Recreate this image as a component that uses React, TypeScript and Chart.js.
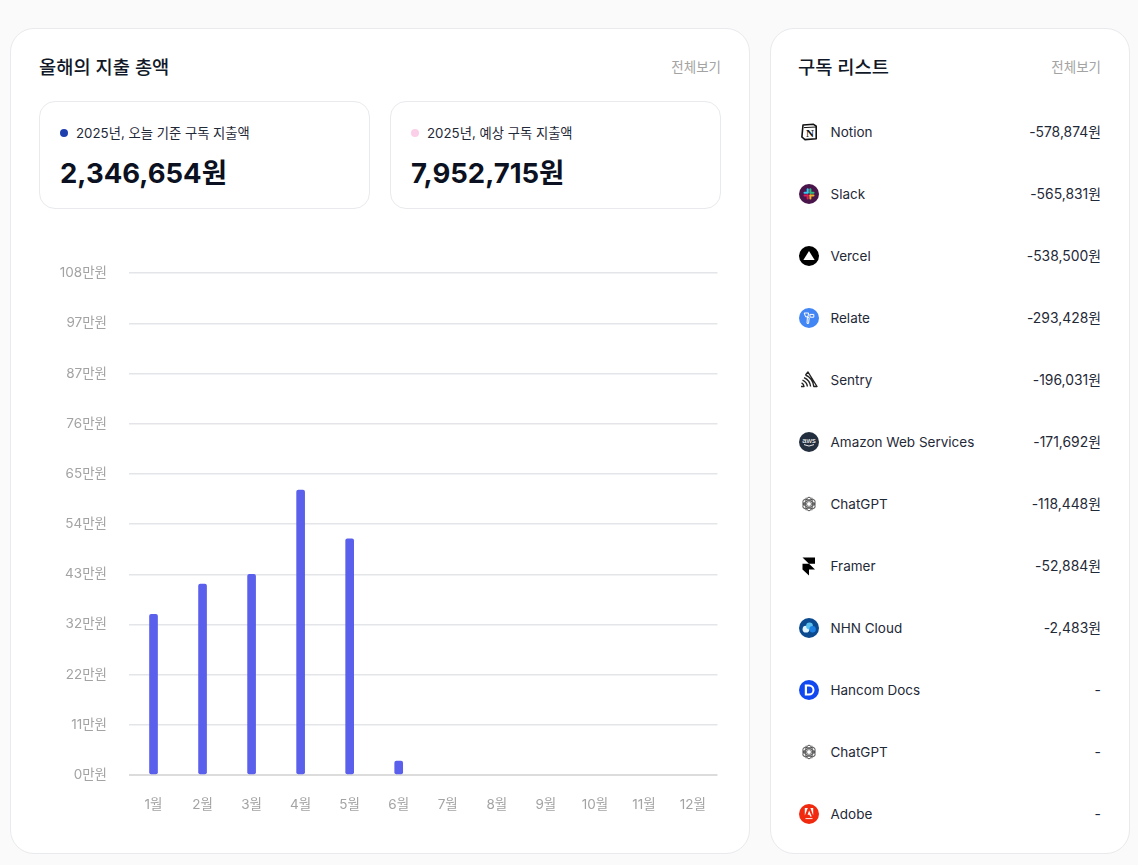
import React, { useEffect, useRef } from "react";
import { Chart, registerables } from "chart.js";

Chart.register(...registerables);

const months = ["1월", "2월", "3월", "4월", "5월", "6월", "7월", "8월", "9월", "10월", "11월", "12월"];
const spending = [34.6, 41.1, 43.2, 61.3, 50.8, 3.0, null, null, null, null, null, null];
const yTickLabels = ["0만원", "11만원", "22만원", "32만원", "43만원", "54만원", "65만원", "76만원", "87만원", "97만원", "108만원"];
const subscriptionNames = ["Notion", "Slack", "Vercel", "Relate", "Sentry", "Amazon Web Services", "ChatGPT", "Framer", "NHN Cloud", "Hancom Docs", "ChatGPT", "Adobe"];
const subscriptionAmounts = ["-578,874원", "-565,831원", "-538,500원", "-293,428원", "-196,031원", "-171,692원", "-118,448원", "-52,884원", "-2,483원", "-", "-", "-"];

const FONT = 'Inter, "Noto Sans CJK KR", sans-serif';

function Icon({ name }: { name: string }) {
  const s = { position: "absolute", left: 0, top: 0 } as React.CSSProperties;
  const p = { width: 20, height: 20, viewBox: "0 0 20 20", style: s };
  switch (name) {
    case "Notion":
      return (
        <svg {...p}>
          <path d="M4 3 L14.5 2.3 L17.2 4.2 V16.8 L6 17.6 L2.9 15 Z" fill="#fff" stroke="#111" strokeWidth="1.6" strokeLinejoin="round" />
          <path d="M5 5.6 L17 5" stroke="#111" strokeWidth="1" />
          <text x="11" y="15" textAnchor="middle" fontSize="11" fontWeight="700" fontFamily="Liberation Serif" fill="#111">N</text>
        </svg>
      );
    case "Slack":
      return (
        <svg {...p}>
          <circle cx="10" cy="10" r="10" fill="#4a154b" />
          <rect x="4.5" y="7.8" width="5.2" height="2" rx="1" fill="#36c5f0" />
          <rect x="7.7" y="4.2" width="2" height="5" rx="1" fill="#36c5f0" />
          <rect x="10.4" y="4.2" width="2" height="5.6" rx="1" fill="#2eb67d" />
          <rect x="10.4" y="7.8" width="5.1" height="2" rx="1" fill="#2eb67d" />
          <rect x="10.4" y="10.4" width="5.1" height="2" rx="1" fill="#ecb22e" />
          <rect x="10.4" y="10.4" width="2" height="5.2" rx="1" fill="#ecb22e" />
          <rect x="4.5" y="10.4" width="5.2" height="2" rx="1" fill="#e01e5a" />
          <rect x="7.7" y="10.4" width="2" height="5.2" rx="1" fill="#e01e5a" />
        </svg>
      );
    case "Vercel":
      return (
        <svg {...p}>
          <circle cx="10" cy="10" r="10" fill="#000" />
          <path d="M10 5 L15.6 14 H4.4 Z" fill="#fff" />
        </svg>
      );
    case "Relate":
      return (
        <svg {...p}>
          <circle cx="10" cy="10" r="10" fill="#4285f4" />
          <path d="M5.2 5 H9.6 L9 8.8 H6.6 Z M10.8 6.4 H14.8 V9.2 H11.2 Z M8.4 9 L10.2 9.6 L9.6 15.4 H8 Z" fill="none" stroke="#fff" strokeWidth="1" strokeLinejoin="round" />
        </svg>
      );
    case "Sentry":
      return (
        <svg {...p}>
          <path d="M2 16.5 H5 A4.5 4.5 0 0 0 2.6 12.8 M3.5 10.2 A8 8 0 0 1 8.4 16.5 M5 7.6 A11 11 0 0 1 11.6 16.5 M6.5 5 L9 2 L18 16.5 H14.8 A14 14 0 0 0 6.5 5" fill="none" stroke="#222" strokeWidth="1.4" strokeLinejoin="round" />
        </svg>
      );
    case "Amazon Web Services":
      return (
        <svg {...p}>
          <circle cx="10" cy="10" r="10" fill="#232f3e" />
          <text x="10" y="10.5" textAnchor="middle" fontSize="7.5" fontFamily="Liberation Sans" fill="#fff">aws</text>
          <path d="M5 12.6 Q10 15.5 15 12.6" fill="none" stroke="#fff" strokeWidth="0.9" />
        </svg>
      );
    case "ChatGPT":
      return (
        <svg {...p}>
          {[0, 60, 120].map((a) => (
            <ellipse key={a} cx="10" cy="10" rx="6.8" ry="3.6" fill="none" stroke="#444" strokeWidth="0.9" transform={`rotate(${a + 30} 10 10)`} />
          ))}
          {[0, 60, 120].map((a) => (
            <ellipse key={`b${a}`} cx="10" cy="10" rx="6.8" ry="2.2" fill="none" stroke="#777" strokeWidth="0.7" transform={`rotate(${a} 10 10)`} />
          ))}
        </svg>
      );
    case "Framer":
      return (
        <svg {...p}>
          <path d="M3.5 1.5 H16 V7.8 H10 L16 13.5 H10 V19.5 L3.5 13.5 V7.8 H10 Z" fill="#000" />
        </svg>
      );
    case "NHN Cloud":
      return (
        <svg {...p}>
          <circle cx="10" cy="10" r="10" fill="#0b4a8f" />
          <circle cx="7" cy="11.2" r="3.4" fill="#dff4fd" />
          <circle cx="10.5" cy="8" r="3.4" fill="#5cc0ee" />
          <circle cx="13.6" cy="11.2" r="3.2" fill="#1d7fe0" />
        </svg>
      );
    case "Hancom Docs":
      return (
        <svg {...p}>
          <circle cx="10" cy="10" r="10" fill="#1248f0" />
          <path d="M5.8 4.5 H10 A5.5 5.5 0 0 1 10 15.5 H5.8 Z M8 6.5 V13.5 H10 A3.5 3.5 0 0 0 10 6.5 Z" fill="#fff" fillRule="evenodd" />
        </svg>
      );
    default:
      return (
        <svg {...p}>
          <circle cx="10" cy="10" r="10" fill="#f0290f" />
          <path d="M6 4 H8.8 L5.8 11.5 V4 Z M14.2 4 H11.4 L14.2 11.5 Z M10.1 6.5 L12.8 12.5 H11.2 L10.4 10.8 H8.6 Z" fill="#fff" />
          <rect x="6.5" y="14" width="7" height="1.1" fill="#fff" opacity="0.8" />
        </svg>
      );
  }
}

const Abs = ({ x, y, w, h, style, children }: any) => (
  <div style={{ position: "absolute", left: x, top: y, width: w, height: h, boxSizing: "border-box", ...style }}>{children}</div>
);

const T = ({ x, right, cy, size, weight, color, children }: any) => (
  <div
    style={{
      position: "absolute",
      left: x,
      right,
      top: cy - 15,
      height: 30,
      lineHeight: "30px",
      fontSize: size,
      fontWeight: weight || 400,
      color,
      whiteSpace: "nowrap",
    }}
  >
    {children}
  </div>
);

const SummaryCard = ({ x, dot, label, value }: any) => (
  <Abs x={x} y={101} w={331} h={108} style={{ background: "#fff", border: "1px solid #e8eaed", borderRadius: 16 }}>
    <div style={{ position: "absolute", left: 20, top: 27, width: 8, height: 8, borderRadius: 4, background: dot }} />
    <T x={36} cy={31} size={13.3} color="#1f2937">{label}</T>
    <T x={20} cy={71} size={27.5} weight={700} color="#0b1120">{value}</T>
  </Abs>
);

export default function App() {
  const ref = useRef<HTMLCanvasElement>(null);

  useEffect(() => {
    if (!ref.current) return;
    const chart = new Chart(ref.current, {
      type: "bar",
      data: {
        labels: months,
        datasets: [
          {
            data: spending,
            backgroundColor: "#5b60ec",
            barThickness: 8,
            borderRadius: 2,
            borderSkipped: false,
          },
        ],
      },
      options: {
        responsive: false,
        animation: false,
        layout: { padding: { top: 13, left: 0, right: 0, bottom: 0 } },
        plugins: { legend: { display: false }, tooltip: { enabled: false } },
        scales: {
          x: {
            afterFit: (s: any) => { s.height = 45; },
            border: { display: false },
            grid: { display: false },
            ticks: { color: "#a3a3a3", font: { size: 13.5, family: FONT }, padding: 14, maxRotation: 0, autoSkip: false },
          },
          y: {
            min: 0,
            max: 108,
            afterFit: (s: any) => { s.width = 90; },
            afterBuildTicks: (s: any) => {
              s.ticks = yTickLabels.map((_, i) => ({ value: i * 10.8 }));
            },
            border: { display: false },
            grid: {
              drawTicks: false,
              color: (c: any) => (c.index === 0 ? "#dcdcdc" : "#e3e5e8"),
              lineWidth: (c: any) => (c.index === 0 ? 2 : 1.4),
            },
            ticks: {
              color: "#a3a3a3",
              font: { size: 13.5, family: FONT },
              padding: 22,
              callback: (_v: any, i: number) => yTickLabels[i],
            },
          },
        },
      },
    });
    return () => chart.destroy();
  }, []);

  return (
    <div style={{ position: "absolute", left: 0, top: 0, width: 1138, height: 865, overflow: "hidden", background: "#fafafa", fontFamily: FONT }}>
      <Abs x={10} y={28} w={740} h={826} style={{ background: "#fff", border: "1px solid #e8eaed", borderRadius: 24 }} />
      <Abs x={770} y={28} w={360} h={826} style={{ background: "#fff", border: "1px solid #e8eaed", borderRadius: 24 }} />

      <T x={39} cy={68} size={18.7} weight={500} color="#111827">올해의 지출 총액</T>
      <T right={1138 - 721} cy={67} size={13.5} color="#a3a3a3">전체보기</T>

      <SummaryCard x={39} dot="#1e40af" label="2025년, 오늘 기준 구독 지출액" value="2,346,654원" />
      <SummaryCard x={390} dot="#fbcfe8" label="2025년, 예상 구독 지출액" value="7,952,715원" />

      <canvas ref={ref} width={681} height={577} style={{ position: "absolute", left: 39, top: 243, width: 681, height: 577 }} />

      <T x={798} cy={68} size={18.7} weight={500} color="#111827">구독 리스트</T>
      <T right={1138 - 1101} cy={67} size={13.5} color="#a3a3a3">전체보기</T>

      {subscriptionNames.map((name, i) => {
        const cy = 132 + i * 62;
        return (
          <React.Fragment key={i}>
            <Abs x={799} y={cy - 10} w={20} h={20}><Icon name={name} /></Abs>
            <T x={830.5} cy={cy} size={13.5} color="#1f2937">{name}</T>
            <T right={1138 - 1101} cy={cy} size={13.9} color="#1f2937">{subscriptionAmounts[i]}</T>
          </React.Fragment>
        );
      })}
    </div>
  );
}
